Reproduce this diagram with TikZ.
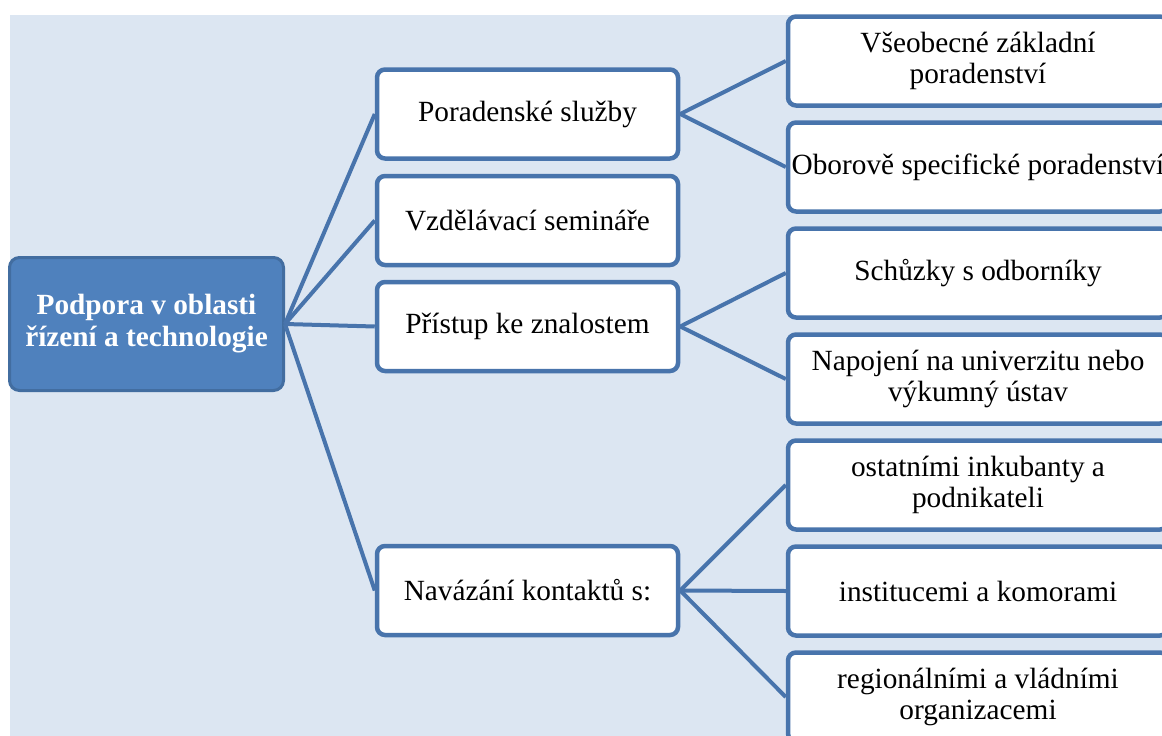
\documentclass[tikz,border=0pt]{standalone}
\usepackage{fontspec}
\setmainfont{Liberation Serif}
\definecolor{bg}{RGB}{220,230,242}
\definecolor{edge}{RGB}{72,116,172}
\definecolor{rootfill}{RGB}{79,129,189}
\definecolor{rootedge}{RGB}{66,109,160}
\begin{document}
\begin{tikzpicture}[x=1pt,y=-1pt,
  box/.style={draw=edge, line width=4.5pt, fill=white, rounded corners=8pt,
    align=center, inner sep=2pt, font=\fontsize{29.3}{30.5}\selectfont},
  lvlone/.style={box, minimum width=301pt, minimum height=89pt},
  lvltwo/.style={box, minimum width=380pt, minimum height=89pt},
  rootbox/.style={draw=rootedge, line width=3pt, fill=rootfill, rounded corners=10pt,
    align=center, text=white, font=\fontsize{29.3}{32}\selectfont\bfseries,
    minimum width=274pt, minimum height=133pt},
  link/.style={draw=edge, line width=4pt}]
\useasboundingbox (0,0) rectangle (1162,736);
\clip (0,0) rectangle (1162,736);
% light blue panel
\fill[bg] (10,15) rectangle (1162,736);

% root
\node[rootbox] (root) at (146.5,324) {Podpora v oblasti\\řízení a technologie};

% first level
\node[lvlone] (s1) at (527.5,114)   {Poradenské služby};
\node[lvlone] (s2) at (527.5,220.5) {Vzdělávací semináře};
\node[lvlone] (s3) at (527.5,326.5) {Přístup ke znalostem};
\node[lvlone] (s4) at (527.5,590.5) {Navázání kontaktů s:};

% second level
\node[lvltwo] (a1) at (978,61)  {Všeobecné základní\\poradenství};
\node[lvltwo] (a2) at (978,167) {Oborově specifické poradenství};
\node[lvltwo] (b1) at (978,273) {Schůzky s odborníky};
\node[lvltwo] (b2) at (978,379) {Napojení na univerzitu nebo\\výkumný ústav};
\node[lvltwo] (c1) at (978,485) {ostatními inkubanty a\\podnikateli};
\node[lvltwo] (c2) at (978,591) {institucemi a komorami};
\node[lvltwo] (c3) at (978,697) {regionálními a vládními\\organizacemi};

% connectors
\foreach \t in {s1,s2,s3,s4} \draw[link] (root.east) -- (\t.west);
\foreach \t in {a1,a2} \draw[link] (s1.east) -- (\t.west);
\foreach \t in {b1,b2} \draw[link] (s3.east) -- (\t.west);
\foreach \t in {c1,c2,c3} \draw[link] (s4.east) -- (\t.west);
\end{tikzpicture}
\end{document}
